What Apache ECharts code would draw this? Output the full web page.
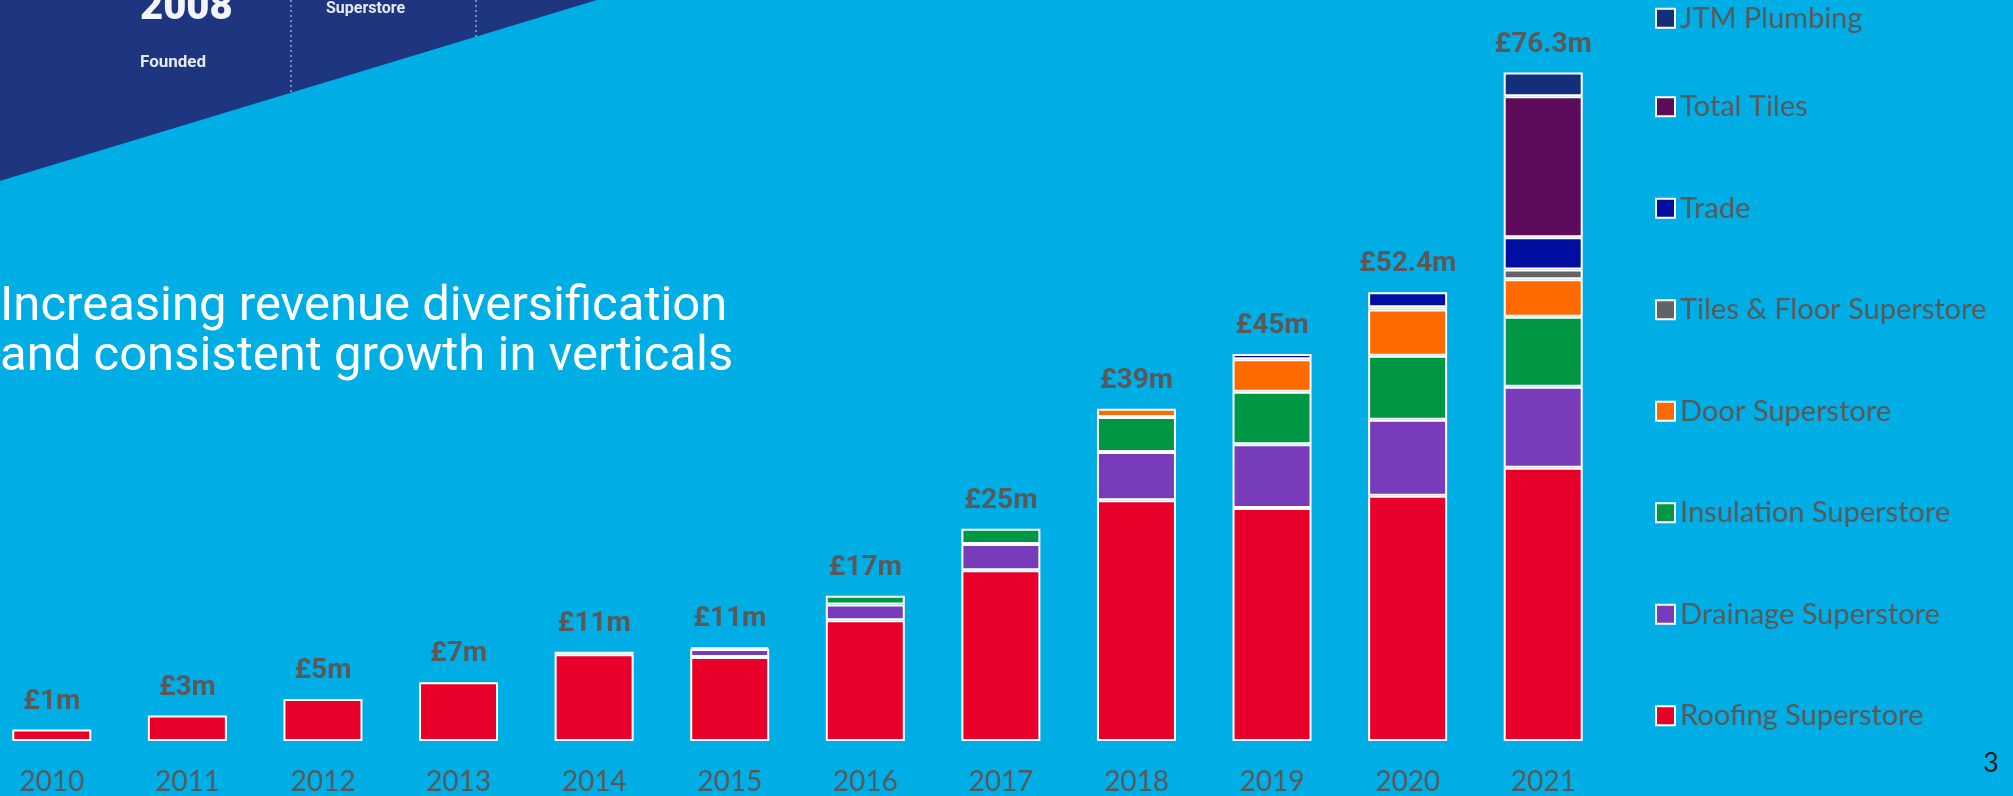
<!DOCTYPE html>
<html>
<head>
<meta charset="utf-8">
<script src="https://cdn.jsdelivr.net/npm/echarts@6/dist/echarts.min.js"></script>
<style>html,body{margin:0;padding:0;background:#00AEE6;overflow:hidden;}#c{position:absolute;left:-16px;top:0;width:2029px;height:796px;}</style>
</head>
<body>
<div id="c"></div>
<script>
const years = ['2010','2011','2012','2013','2014','2015','2016','2017','2018','2019','2020','2021'];
const totalLabels = ['£1m','£3m','£5m','£7m','£11m','£11m','£17m','£25m','£39m','£45m','£52.4m','£76.3m'];
const roofing    = [1.3, 2.9, 4.8, 6.7, 9.9, 9.6, 13.8, 19.5, 27.5, 26.6, 28.0, 31.2];
const drainage   = [null, null, null, null, 0.3, 0.9, 1.8, 3.0, 5.5, 7.3, 8.7, 9.25];
const insulation = [null, null, null, null, null, 0.2, 1.0, 1.75, 4.0, 6.0, 7.3, 8.0];
const door       = [null, null, null, null, null, null, null, null, 0.95, 3.7, 5.3, 4.3];
const tilesFloor = [null, null, null, null, null, null, null, null, null, null, 0.25, 1.1];
const trade      = [null, null, null, null, null, null, null, null, null, 0.6, 1.7, 3.7];
const totalTiles = [null, null, null, null, null, null, null, null, null, null, null, 16.1];
const jtm        = [null, null, null, null, null, null, null, null, null, null, null, 2.7];

const seriesDefs = [
  ['Roofing Superstore', roofing, '#E9002A'],
  ['Drainage Superstore', drainage, '#783CBB'],
  ['Insulation Superstore', insulation, '#009744'],
  ['Door Superstore', door, '#FF6A00'],
  ['Tiles & Floor Superstore', tilesFloor, '#626366'],
  ['Trade', trade, '#000F9F'],
  ['Total Tiles', totalTiles, '#5C0A5A'],
  ['JTM Plumbing', jtm, '#132F7A']
];

const totals = years.map((_, i) => seriesDefs.reduce((s, d) => s + (d[1][i] || 0), 0));

const DX = 16; // chart canvas is shifted 16px left of the page
const BAR_W = 79;
const series = seriesDefs.map(d => ({
  name: d[0], type: 'bar', stack: 'rev', data: d[1], barWidth: BAR_W,
  itemStyle: { color: d[2], borderColor: '#ffffff', borderWidth: 2 },
  emphasis: { disabled: true }
}));
series.push({
  name: 'total', type: 'bar', data: totals, barWidth: BAR_W, barGap: '-100%',
  itemStyle: { color: 'rgba(0,0,0,0)', borderWidth: 0 },
  label: {
    show: true, position: 'top', distance: 14,
    formatter: p => totalLabels[p.dataIndex],
    fontFamily: 'Roboto', fontWeight: 'bold', fontSize: 28, color: '#595959'
  },
  silent: true, z: 5
});

const legendText = { fontFamily: 'Lato', fontSize: 29, color: '#595959', lineHeight: 30 };

const chart = echarts.init(document.getElementById('c'), null, { renderer: 'canvas' });
chart.setOption({
  backgroundColor: '#00AEE6',
  animation: false,
  grid: { left: 0, width: 1627, top: 40.6, bottom: 55, containLabel: false },
  xAxis: {
    type: 'category', data: years,
    axisLine: { show: false }, axisTick: { show: false },
    axisLabel: { fontFamily: 'Lato', fontSize: 28, color: '#595959', margin: 27 }
  },
  yAxis: { type: 'value', min: 0, max: 80, show: false, splitLine: { show: false } },
  legend: [
    { data: ['JTM Plumbing'], orient: 'vertical', left: 1655 + DX, top: 3.3, padding: 0,
      itemWidth: 19, itemHeight: 19, itemGap: 71.5, icon: 'rect', textStyle: legendText, selectedMode: false },
    { data: ['Total Tiles','Trade','Tiles & Floor Superstore','Door Superstore','Insulation Superstore','Drainage Superstore','Roofing Superstore'],
      orient: 'vertical', left: 1655 + DX, top: 91.7, padding: 0,
      itemWidth: 19, itemHeight: 19, itemGap: 71.5, icon: 'rect', textStyle: legendText, selectedMode: false }
  ],
  graphic: [
    { type: 'polygon', shape: { points: [[0,0],[597 + DX,0],[0,181 + 181*DX/597]] }, style: { fill: '#1E3580' }, z: 0, silent: true },
    { type: 'line', shape: { x1: 291 + DX, y1: 0, x2: 291 + DX, y2: 93 }, style: { stroke: '#9CA9D2', lineWidth: 1.5, lineDash: [2, 3] }, silent: true },
    { type: 'line', shape: { x1: 476 + DX, y1: 0, x2: 476 + DX, y2: 37 }, style: { stroke: '#9CA9D2', lineWidth: 1.5, lineDash: [2, 3] }, silent: true },
    { type: 'text', x: 140 + DX, y: -11, style: { text: '2008', fill: '#F2F4FA', font: '900 40px Roboto' }, silent: true },
    { type: 'text', x: 140 + DX, y: 54, style: { text: 'Founded', fill: '#E6E9F2', font: 'bold 17px Roboto' }, silent: true },
    { type: 'text', x: 326 + DX, y: 1, style: { text: 'Superstore', fill: '#E6E9F2', font: 'bold 16px Roboto' }, silent: true },
    { type: 'text', x: 0 + DX, y: 283.5, style: { text: 'Increasing revenue diversification', fill: '#ffffff', font: '49px Roboto' }, silent: true },
    { type: 'text', x: 0 + DX, y: 333.5, style: { text: 'and consistent growth in verticals', fill: '#ffffff', font: '49px Roboto' }, silent: true },
    { type: 'text', x: 1983 + DX, y: 750, style: { text: '3', fill: '#1A1A1A', font: '27px Lato' }, silent: true }
  ],
  series: series
});
</script>
</body>
</html>
